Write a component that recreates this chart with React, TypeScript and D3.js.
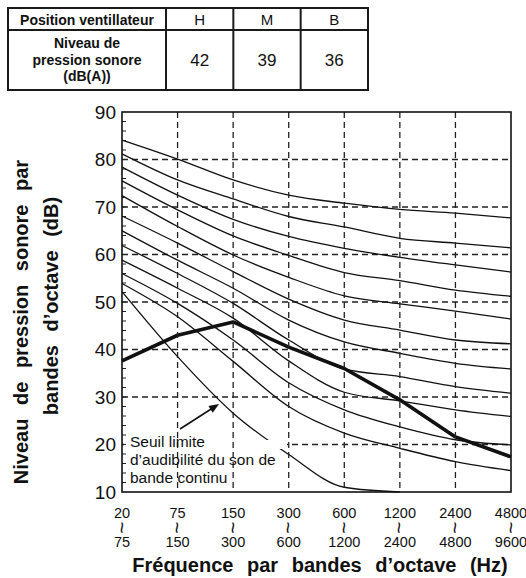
import React, { useRef, useEffect } from "react";
import * as d3 from "d3";

// table above the chart
const fanPositions = ["H", "M", "B"];
const soundLevels = [42, 39, 36];

// octave bands (lower / upper bound, Hz)
const bandLow = ["20", "75", "150", "300", "600", "1200", "2400", "4800"];
const bandHigh = ["75", "150", "300", "600", "1200", "2400", "4800", "9600"];

const yTicks = [10, 20, 30, 40, 50, 60, 70, 80, 90];

// NC curves, dB per band
const nc70 = [84.1, 80.1, 75.7, 72.5, 70.8, 69.5, 68.7, 67.7];
const nc65 = [81.2, 75.7, 71.7, 68.0, 65.8, 63.4, 62.4, 61.4];
const nc60 = [78.4, 72.5, 67.4, 63.8, 61.3, 59.4, 57.8, 56.3];
const nc55 = [75.5, 69.4, 63.9, 59.8, 56.2, 54.5, 52.5, 51.2];
const nc50 = [72.4, 65.9, 59.9, 55.2, 51.3, 49.6, 48.1, 46.4];
const nc45 = [68.1, 62.4, 56.4, 50.6, 46.2, 44.1, 42.0, 41.2];
const nc40 = [65.0, 58.8, 52.9, 46.2, 41.6, 39.2, 37.1, 35.9];
const nc35 = [61.9, 56.0, 49.7, 42.0, 35.9, 34.3, 32.2, 30.8];
const nc30 = [58.8, 52.9, 46.6, 37.6, 31.0, 29.2, 27.3, 25.9];
const nc25 = [56.0, 49.7, 42.0, 33.0, 27.3, 23.7, 21.0, 19.9];
const nc20 = [53.9, 46.9, 37.5, 28.0, 22.4, 19.2, 16.4, 14.5];
const nc15 = [52.2, 38.5, 26.6, 17.9, 11.0, 10.0, null, null];

// measured unit level (thick line)
const unitLevels = [37.6, 43.0, 45.8, 40.5, 36.0, 29.4, 21.6, 17.4];

const noteLines = ["Seuil limite", "d\u2019audibilité du son de", "bande continu"];

const FONT = "'Liberation Sans', Arial, Helvetica, sans-serif";

const App = () => {
    const plot = useRef(null);
    const width = 526;
    const height = 578;

    useEffect(() => {
        const svg = d3.select(plot.current);
        svg.selectAll("*").remove();

        // ---- table
        const tbl = svg.append("g").attr("font-family", FONT).attr("fill", "#111");
        const col = d3.scaleBand().domain(fanPositions).range([166, 368]);
        tbl.append("rect")
            .attr("x", 8).attr("y", 8).attr("width", 360).attr("height", 82)
            .attr("fill", "none").attr("stroke", "#1a1a1a").attr("stroke-width", 2);
        tbl.append("line")
            .attr("x1", 8).attr("x2", 368).attr("y1", 30).attr("y2", 30)
            .attr("stroke", "#1a1a1a").attr("stroke-width", 2);
        tbl.selectAll(".vline").data(fanPositions).join("line")
            .attr("x1", d => col(d)).attr("x2", d => col(d))
            .attr("y1", 8).attr("y2", 90)
            .attr("stroke", "#1a1a1a").attr("stroke-width", 2);
        tbl.append("text")
            .attr("x", 87).attr("y", 24.5).attr("text-anchor", "middle")
            .attr("font-size", 14).attr("font-weight", "bold")
            .text("Position ventillateur");
        tbl.selectAll(".hd").data(fanPositions).join("text")
            .attr("x", d => col(d) + col.bandwidth() / 2).attr("y", 24.5)
            .attr("text-anchor", "middle").attr("font-size", 15)
            .text(d => d);
        tbl.selectAll(".lbl").data(["Niveau de", "pression sonore", "(dB(A))"]).join("text")
            .attr("x", 87).attr("y", (d, i) => 48 + i * 16.5)
            .attr("text-anchor", "middle").attr("font-size", 14).attr("font-weight", "bold")
            .text(d => d);
        tbl.selectAll(".val").data(soundLevels).join("text")
            .attr("x", (d, i) => col(fanPositions[i]) + col.bandwidth() / 2).attr("y", 66)
            .attr("text-anchor", "middle").attr("font-size", 17)
            .text(d => d);

        // ---- chart
        const x = d3.scalePoint().domain(bandLow).range([122, 511]);
        const y = d3.scaleLinear().domain([10, 90]).range([492, 112]);
        const g = svg.append("g");

        // horizontal dashed grid
        g.selectAll(".hgrid").data(yTicks.slice(1, -1)).join("line")
            .attr("x1", x(bandLow[0])).attr("x2", x(bandLow[7]))
            .attr("y1", d => y(d)).attr("y2", d => y(d))
            .attr("stroke", "#222").attr("stroke-width", 1.3).attr("stroke-dasharray", "6,4");

        const line = d3.line()
            .defined(d => d != null)
            .x((d, i) => x(bandLow[i]))
            .y(d => y(d))
            .curve(d3.curveMonotoneX);

        const curves = [nc70, nc65, nc60, nc55, nc50, nc45, nc40, nc35, nc30, nc25, nc20, nc15];
        g.selectAll(".nc").data(curves).join("path")
            .attr("d", d => line(d))
            .attr("fill", "none").attr("stroke", "#111").attr("stroke-width", 1.3);

        const thick = d3.line()
            .x((d, i) => x(bandLow[i]))
            .y(d => y(d));
        g.append("path")
            .attr("d", thick(unitLevels))
            .attr("fill", "none").attr("stroke", "#111").attr("stroke-width", 3.6)
            .attr("stroke-linejoin", "round");

        // white box behind the note
        g.append("rect").attr("x", 124).attr("y", 440).attr("width", 163).attr("height", 9).attr("fill", "#fff");
        g.append("rect").attr("x", 124).attr("y", 449).attr("width", 153).attr("height", 41).attr("fill", "#fff");

        // vertical dashed grid
        g.selectAll(".vgrid").data(bandLow.slice(1, -1)).join("line")
            .attr("x1", d => x(d)).attr("x2", d => x(d))
            .attr("y1", y(90)).attr("y2", y(10))
            .attr("stroke", "#222").attr("stroke-width", 1.3).attr("stroke-dasharray", "6,4");

        // minor ticks on the left axis
        g.selectAll(".mtick").data(d3.range(12, 90, 2)).join("line")
            .attr("x1", x(bandLow[0])).attr("x2", x(bandLow[0]) + 4)
            .attr("y1", d => y(d)).attr("y2", d => y(d))
            .attr("stroke", "#222").attr("stroke-width", 1);

        // frame
        g.append("rect")
            .attr("x", x(bandLow[0])).attr("y", y(90))
            .attr("width", x(bandLow[7]) - x(bandLow[0])).attr("height", y(10) - y(90))
            .attr("fill", "none").attr("stroke", "#111").attr("stroke-width", 1.6);

        // y tick labels
        g.selectAll(".ylab").data(yTicks).join("text")
            .attr("x", 116).attr("y", d => y(d)).attr("dy", "0.36em")
            .attr("text-anchor", "end").attr("font-family", FONT).attr("font-size", 19)
            .attr("fill", "#111")
            .text(d => d);

        // x tick labels
        const xl = g.append("g").attr("font-family", FONT).attr("fill", "#111").attr("text-anchor", "middle");
        xl.selectAll(".xlo").data(bandLow).join("text")
            .attr("x", d => x(d)).attr("y", 518).attr("font-size", 14.5)
            .text(d => d);
        xl.selectAll(".xsep").data(bandLow).join("text")
            .attr("transform", d => `translate(${x(d)},527.5) rotate(90)`)
            .attr("dominant-baseline", "central").attr("font-size", 21)
            .text("~");
        xl.selectAll(".xhi").data(bandHigh).join("text")
            .attr("x", (d, i) => x(bandLow[i])).attr("y", 547).attr("font-size", 14.5)
            .text(d => d);

        // axis titles
        svg.append("text")
            .attr("x", 320).attr("y", 572).attr("text-anchor", "middle")
            .attr("font-family", FONT).attr("font-size", 20).attr("font-weight", "bold")
            .style("word-spacing", "8px").attr("fill", "#111")
            .text("Fréquence par bandes d\u2019octave (Hz)");
        svg.append("text")
            .attr("transform", "translate(28,322) rotate(-90)").attr("text-anchor", "middle")
            .attr("font-family", FONT).attr("font-size", 20).attr("font-weight", "bold")
            .style("word-spacing", "8px").attr("fill", "#111")
            .text("Niveau de pression sonore par");
        svg.append("text")
            .attr("transform", "translate(58,306) rotate(-90)").attr("text-anchor", "middle")
            .attr("font-family", FONT).attr("font-size", 20).attr("font-weight", "bold")
            .style("word-spacing", "8px").attr("fill", "#111")
            .text("bandes d\u2019octave (dB)");

        // note + arrow
        g.selectAll(".note").data(noteLines).join("text")
            .attr("x", 130).attr("y", (d, i) => 447 + i * 18)
            .attr("font-family", FONT).attr("font-size", 15.5).attr("fill", "#111")
            .text(d => d);
        const ax0 = 180, ay0 = 429, ax1 = 219, ay1 = 404;
        const ang = Math.atan2(ay1 - ay0, ax1 - ax0);
        g.append("line")
            .attr("x1", ax0).attr("y1", ay0)
            .attr("x2", ax1 - 7 * Math.cos(ang)).attr("y2", ay1 - 7 * Math.sin(ang))
            .attr("stroke", "#111").attr("stroke-width", 1.6);
        const head = [
            [ax1, ay1],
            [ax1 - 10 * Math.cos(ang) + 4 * Math.sin(ang), ay1 - 10 * Math.sin(ang) - 4 * Math.cos(ang)],
            [ax1 - 10 * Math.cos(ang) - 4 * Math.sin(ang), ay1 - 10 * Math.sin(ang) + 4 * Math.cos(ang)],
        ];
        g.append("path").attr("d", d3.line()(head) + "Z").attr("fill", "#111");
    });

    return (
        <svg ref={plot} width={width} height={height}
            style={{ position: "absolute", left: 0, top: 0, background: "#fff" }} />
    );
};

export default App;
